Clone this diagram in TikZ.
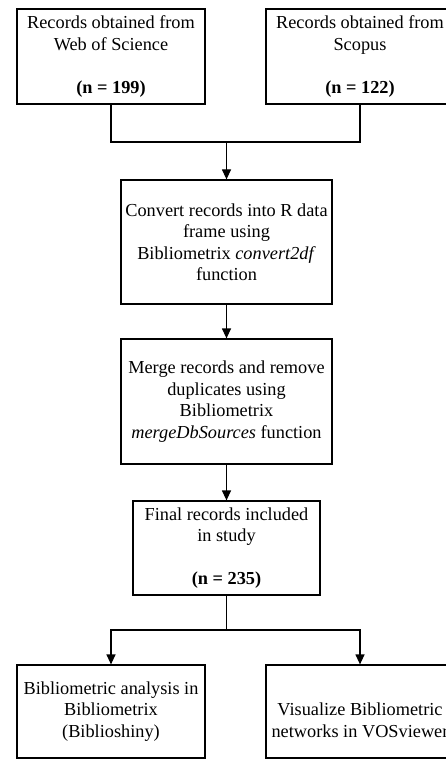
\documentclass[tikz,border=0pt]{standalone}
\usepackage{fontspec}
\setmainfont{Liberation Serif}
\usetikzlibrary{arrows.meta}
\begin{document}
\begin{tikzpicture}[x=1pt,y=-1pt,
  box/.style={draw, line width=1.2pt, inner sep=0pt, align=center,
    font=\fontsize{18.3}{21.5}\selectfont},
  txt/.style={inner sep=0pt, align=center, font=\fontsize{18.3}{21.5}\selectfont},
  arr/.style={line width=1.2pt, -{Triangle[length=10pt,width=9pt]}},
  ln/.style={line width=1.2pt}]
\useasboundingbox (0,0) rectangle (446,759);
\clip (0,0) rectangle (446,759);
\fill[white] (0,0) rectangle (446,759);
\node[box, minimum width=188pt, minimum height=95pt] (wos) at (111,56.5)
  {Records obtained from\\Web of Science\\[21.5pt]\textbf{(n = 199)}};
\node[box, minimum width=188pt, minimum height=95pt] (scopus) at (360,56.5)
  {Records obtained from\\Scopus\\[21.5pt]\textbf{(n = 122)}};
\node[box, minimum width=211pt, minimum height=124pt] (convert) at (226.5,242)
  {Convert records into R data\\frame using\\Bibliometrix \textit{convert2df}\\function};
\node[box, minimum width=211pt, minimum height=125pt] (merge) at (226.5,401.5)
  {Merge records and remove\\duplicates using\\Bibliometrix\\\textit{mergeDbSources} function};
\node[box, minimum width=187pt, minimum height=94pt] (final) at (226.5,548)
  {Final records included\\in study\\[21.5pt]\textbf{(n = 235)}};
\node[box, minimum width=188pt, minimum height=93pt] (bl) at (111,711.5)
  {Bibliometric analysis in\\Bibliometrix\\(Biblioshiny)};
\node[box, minimum width=188pt, minimum height=93pt] (br) at (360,711.5) {};
\node[txt] (brt) at ([yshift=-9pt]br.center)
  {Visualize Bibliometric\\networks in VOSviewer};
\coordinate (j1) at (226.5,142);
\coordinate (j2) at (226.5,630);
\draw[ln] (wos.south) |- (j1);
\draw[ln] (scopus.south) |- (j1);
\draw[arr] (j1) -- (convert.north);
\draw[arr] (convert.south) -- (merge.north);
\draw[arr] (merge.south) -- (final.north);
\draw[ln] (final.south) -- (j2);
\draw[arr] (j2) -| (bl.north);
\draw[arr] (j2) -| (br.north);
\end{tikzpicture}
\end{document}
